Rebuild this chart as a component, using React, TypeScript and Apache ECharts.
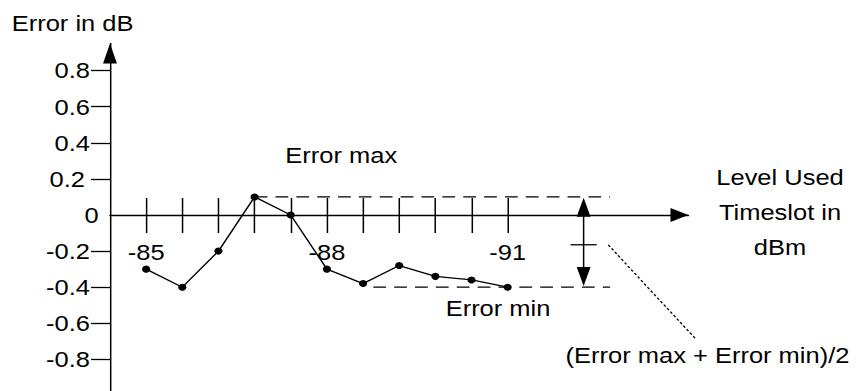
import React, { useEffect, useRef } from 'react';
import * as echarts from 'echarts';

// ---- data ----
const levels = [-85, -85.6, -86.2, -86.8, -87.4, -88, -88.6, -89.2, -89.8, -90.4, -91];
const errors = [-0.3, -0.4, -0.2, 0.1, 0.0, -0.3, -0.38, -0.28, -0.34, -0.36, -0.4];
const xTickValues = levels;
const xLabelValues = [-85, -88, -91];
const yTickValues = [-0.8, -0.6, -0.4, -0.2, 0.2, 0.4, 0.6, 0.8];
const yLabelValues = [-0.8, -0.6, -0.4, -0.2, 0, 0.2, 0.4, 0.6, 0.8];
const errorMax = 0.1;
const errorMin = -0.4;
const midMark = -0.165;

// annotation anchors (data units)
const rangeArrowLevel = -92.26;
const dashEndLevel = -92.7;
const minDashStartLevel = -88.77;
const leaderStart = [-92.67, -0.166];
const leaderEnd = [-94.11, -0.683];

const FONT = 'Liberation Sans, Arial, Helvetica, sans-serif';
const FS = 22;
const INNER_W = 742;
const INNER_H = 400;
const OUT_W = 860;
const OUT_H = 391;
const SX = OUT_W / INNER_W;
const GRID_TOP = 43.5;
const GRID_BOTTOM_Y = 395.5;
const ZERO_Y = 215;

export default function App() {
  const ref = useRef<HTMLDivElement>(null);

  useEffect(() => {
    if (!ref.current) return;
    const chart = echarts.init(ref.current, null, { renderer: 'svg' });
    const black = '#000';
    const lw = 1.3;

    const yFormatter = (v: number) => {
      if (Math.abs(v) < 1e-9) return '0';
      const s = v.toFixed(1);
      if (Math.abs(v - 0.2) < 1e-9) return `{b|${s}}`;
      return `{a|${s}}`;
    };

    chart.setOption({
      animation: false,
      backgroundColor: '#fff',
      grid: {
        left: 94.9,
        right: INNER_W - 594.0,
        top: GRID_TOP,
        bottom: INNER_H - GRID_BOTTOM_Y,
        containLabel: false,
        outerBoundsMode: 'none',
      },
      xAxis: [
        {
          type: 'value',
          inverse: true,
          min: -94.0,
          max: -84.4,
          position: 'bottom',
          offset: -(GRID_BOTTOM_Y - ZERO_Y),
          axisLine: {
            show: true,
            onZero: false,
            symbol: ['none', 'triangle'],
            symbolSize: [14, 15.5],
            symbolOffset: [0, -7.75],
            lineStyle: { color: black, width: lw },
          },
          axisTick: { show: false },
          splitLine: { show: false },
          axisLabel: {
            show: true,
            customValues: xLabelValues,
            margin: 26,
            color: black,
            fontSize: FS,
            fontFamily: FONT,
            formatter: (v: number) => String(Math.round(v)),
          },
        },
        {
          type: 'value',
          inverse: true,
          min: -94.0,
          max: -84.4,
          position: 'bottom',
          offset: -197.5,
          axisLine: { show: false, onZero: false },
          axisTick: {
            show: true,
            customValues: xTickValues,
            length: 35,
            inside: false,
            lineStyle: { color: black, width: lw },
          },
          splitLine: { show: false },
          axisLabel: { show: false },
        },
      ],
      yAxis: {
        type: 'value',
        min: -1,
        max: 0.95,
        axisLine: {
          show: true,
          onZero: false,
          symbol: ['none', 'triangle'],
          symbolSize: [12, 20],
          symbolOffset: [0, -10],
          lineStyle: { color: black, width: lw },
        },
        axisTick: {
          show: true,
          customValues: yTickValues,
          length: 16.4,
          lineStyle: { color: black, width: lw },
        },
        splitLine: { show: false },
        axisLabel: {
          show: true,
          customValues: yLabelValues,
          margin: 9.7,
          color: black,
          fontSize: FS,
          fontFamily: FONT,
          formatter: yFormatter,
          rich: {
            a: { fontSize: FS, fontFamily: FONT, color: black, padding: [0, 7.6, 0, 0] },
            b: { fontSize: FS, fontFamily: FONT, color: black, padding: [0, 11.9, 0, 0] },
          },
        },
      },
      series: [
        {
          type: 'line',
          xAxisIndex: 0,
          yAxisIndex: 0,
          data: levels.map((l, i) => [l, errors[i]]),
          symbol: 'circle',
          symbolSize: 7,
          showSymbol: true,
          lineStyle: { color: black, width: lw },
          itemStyle: { color: black },
          z: 5,
        },
      ],
    });

    const P = (x: number, y: number) =>
      chart.convertToPixel({ seriesIndex: 0 }, [x, y]) as number[];

    const maxStart = P(levels[3], errorMax);
    const maxEnd = P(dashEndLevel, errorMax);
    const minStart = P(minDashStartLevel, errorMin);
    const minEnd = P(dashEndLevel, errorMin);
    const arTop = P(rangeArrowLevel, errorMax);
    const arBot = P(rangeArrowLevel, errorMin);
    const mid = P(rangeArrowLevel, midMark);
    const lsA = P(leaderStart[0], leaderStart[1]);
    const lsB = P(leaderEnd[0], leaderEnd[1]);

    const ax = arTop[0];
    const topTip = arTop[1] + 0.7;
    const botTip = arBot[1] - 1.2;
    const ahH = 19;
    const ahW = 6;

    const txt = (text: string, x: number, y: number, align: string, extra: any = {}) => ({
      type: 'text',
      x,
      y,
      silent: true,
      style: {
        text,
        fontSize: FS,
        fontFamily: FONT,
        fill: black,
        align,
        verticalAlign: 'middle',
        textAlign: align,
        textVerticalAlign: 'middle',
        ...extra,
      },
    });

    chart.setOption({
      graphic: [
        {
          type: 'line',
          silent: true,
          shape: { x1: maxStart[0], y1: maxStart[1], x2: maxEnd[0], y2: maxEnd[1] },
          style: { stroke: black, lineWidth: lw, lineDash: [11, 7] },
        },
        {
          type: 'line',
          silent: true,
          shape: { x1: minStart[0], y1: minStart[1], x2: minEnd[0], y2: minEnd[1] },
          style: { stroke: black, lineWidth: lw, lineDash: [11, 7] },
        },
        {
          type: 'line',
          silent: true,
          shape: { x1: ax, y1: topTip + 5, x2: ax, y2: botTip - 5 },
          style: { stroke: black, lineWidth: lw },
        },
        {
          type: 'polygon',
          silent: true,
          shape: { points: [[ax, topTip], [ax + ahW, topTip + ahH], [ax - ahW, topTip + ahH]] },
          style: { fill: black },
        },
        {
          type: 'polygon',
          silent: true,
          shape: { points: [[ax, botTip], [ax + ahW, botTip - ahH], [ax - ahW, botTip - ahH]] },
          style: { fill: black },
        },
        {
          type: 'line',
          silent: true,
          shape: { x1: mid[0] - 11.3, y1: mid[1], x2: mid[0] + 11.3, y2: mid[1] },
          style: { stroke: black, lineWidth: lw },
        },
        {
          type: 'line',
          silent: true,
          shape: { x1: lsA[0], y1: lsA[1], x2: lsB[0], y2: lsB[1] },
          style: { stroke: black, lineWidth: 1.2, lineDash: [2.5, 2] },
        },
        txt('Error in dB', 10.1, 23.5, 'left'),
        txt('Error max', 294.4, 154.7, 'center'),
        txt('Error min', 429.7, 308.3, 'center'),
        txt('Level Used\nTimeslot in\ndBm', 673, 212, 'center', { lineHeight: 35 }),
        txt('(Error max + Error min)/2', 610.4, 355, 'center'),
      ],
    });

    return () => chart.dispose();
  }, []);

  return (
    <div
      style={{
        position: 'absolute',
        left: 0,
        top: 0,
        width: OUT_W,
        height: OUT_H,
        overflow: 'hidden',
        background: '#fff',
      }}
    >
      <div
        ref={ref}
        style={{
          width: INNER_W,
          height: INNER_H,
          transform: `scaleX(${SX})`,
          transformOrigin: '0 0',
        }}
      />
    </div>
  );
}
